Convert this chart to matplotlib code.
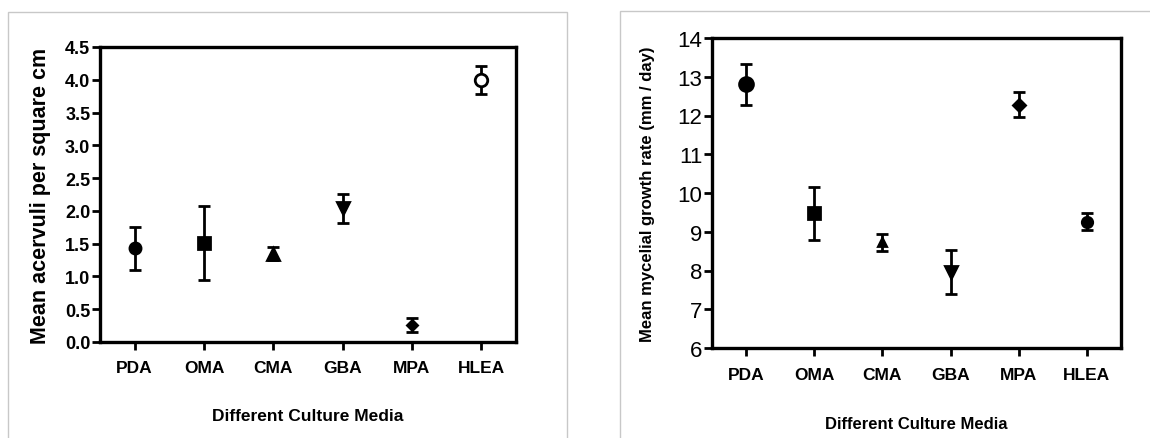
import matplotlib.pyplot as plt
from matplotlib.patches import Rectangle

media = ['PDA', 'OMA', 'CMA', 'GBA', 'MPA', 'HLEA']
markers = ['o', 's', '^', 'v', 'D', 'o']

# left panel: acervuli
acer_mean = [1.43, 1.51, 1.35, 2.04, 0.26, 4.00]
acer_err = [0.33, 0.56, 0.10, 0.22, 0.11, 0.21]
acer_ms = [8, 8, 8, 8, 5.5, 9]

# right panel: mycelial growth
grow_mean = [12.81, 9.48, 8.73, 7.97, 12.28, 9.26]
grow_err = [0.53, 0.68, 0.22, 0.57, 0.33, 0.22]
grow_ms = [10, 9, 6, 9, 6.5, 7.5]

sans = ['Liberation Sans', 'DejaVu Sans']

fig = plt.figure(figsize=(11.5, 4.39), dpi=100)

# light grey panel frames
W, H = 1150.0, 439.0
fig.patches.append(Rectangle((8 / W, -0.05), (567 - 8) / W, (H - 13) / H + 0.05,
                             transform=fig.transFigure, fill=False,
                             edgecolor='#c8c8c8', linewidth=1.0))
fig.patches.append(Rectangle((620 / W, -0.05), 0.5, (H - 12) / H + 0.05,
                             transform=fig.transFigure, fill=False,
                             edgecolor='#c8c8c8', linewidth=1.0))

ax1 = fig.add_axes([100 / W, (H - 343) / H, 416 / W, 295 / H])
ax2 = fig.add_axes([712 / W, (H - 349) / H, 409 / W, 310 / H])


def draw(ax, mean, err, ms, open_last):
    for i in range(len(media)):
        face = 'white' if (open_last and i == len(media) - 1) else 'black'
        ax.errorbar(i, mean[i], yerr=err[i], fmt=markers[i], color='black',
                    mfc=face, mec='black', mew=2, ms=ms[i],
                    elinewidth=2, capsize=4, capthick=2, zorder=3)
    ax.set_xlim(-0.5, 5.5)
    ax.set_xticks(range(len(media)))
    for s in ax.spines.values():
        s.set_linewidth(2.4)
    ax.tick_params(axis='both', width=2, length=6, direction='out')


draw(ax1, acer_mean, acer_err, acer_ms, True)
ax1.set_ylim(0, 4.5)
ax1.set_yticks([0, 0.5, 1, 1.5, 2, 2.5, 3, 3.5, 4, 4.5])
ax1.set_yticklabels(['%.1f' % v for v in ax1.get_yticks()],
                    family=sans, fontweight='bold', fontsize=13)
ax1.set_xticklabels(media, family=sans, fontweight='bold', fontsize=12.5)
ax1.tick_params(axis='y', pad=1)
ax1.tick_params(axis='x', pad=7)
ax1.set_ylabel('Mean acervuli per square cm', fontweight='bold',
               fontsize=15.5, family=sans, labelpad=10)
ax1.set_xlabel('Different Culture Media', family=sans, fontweight='bold',
               fontsize=12.5, labelpad=24)

draw(ax2, grow_mean, grow_err, grow_ms, False)
ax2.set_ylim(6, 14)
ax2.set_yticks(range(6, 15))
ax2.set_yticklabels([str(v) for v in range(6, 15)], family=sans,
                    fontsize=16)
ax2.set_xticklabels(media, family=sans, fontweight='bold', fontsize=12.5)
ax2.tick_params(axis='y', pad=1)
ax2.tick_params(axis='x', pad=8)
ax2.set_ylabel('Mean mycelial growth rate (mm / day)', family=sans,
               fontweight='bold', fontsize=12, labelpad=16)
ax2.set_xlabel('Different Culture Media', family=sans, fontweight='bold',
               fontsize=12, labelpad=24)

fig.savefig('out.png', dpi=100)
